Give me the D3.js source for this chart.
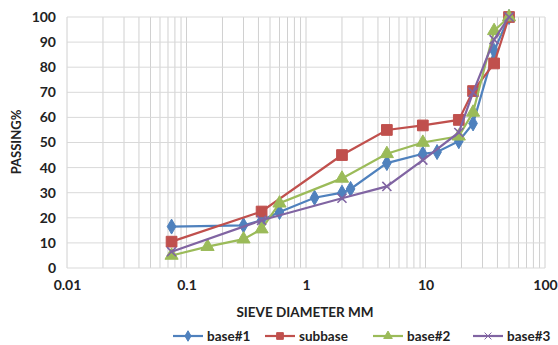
<!DOCTYPE html>
<html><head><meta charset="utf-8">
<script src="https://cdn.jsdelivr.net/npm/d3@7"></script>
<style>
html,body{margin:0;padding:0;background:#fff;}
text{font-family:Lato,"Open Sans",sans-serif;font-weight:bold;fill:#222;}
</style></head>
<body><svg id="c" width="558" height="345"></svg>
<script>
const seriesNames = ["base#1","subbase","base#2","base#3"];
const colors = ["#4F81BD","#C0504D","#9BBB59","#8064A2"];
const symbols = ["diamond","square","triangle","cross"];
const base1Sizes = [0.075,0.3,0.425,0.6,1.18,2,2.36,4.75,9.5,12.5,19,25,37.5,50];
const base1Pass  = [16.5,17,19,22.3,28,30,31.5,41.8,45.5,46.2,50.5,57.6,86.5,100];
const subbaseSizes = [0.075,0.425,2,4.75,9.5,19,25,37.5,50];
const subbasePass  = [10.5,22.5,45,55,56.8,59,70.5,81.5,100];
const base2Sizes = [0.075,0.15,0.3,0.425,0.6,2,4.75,9.5,19,25,37.5,50];
const base2Pass  = [5,8.5,11.5,15.5,25.8,35.7,45.5,50,52.5,62,94.5,100];
const base3Sizes = [0.075,0.425,2,4.75,9.5,19,25,37.5,50];
const base3Pass  = [6.5,19,27.8,32.5,43,54,70,91,100];
const xTicks = [0.01,0.1,1,10,100];
const xTickLabels = ["0.01","0.1","1","10","100"];
const yTicks = [0,10,20,30,40,50,60,70,80,90,100];

const sizes = [base1Sizes,subbaseSizes,base2Sizes,base3Sizes];
const pass = [base1Pass,subbasePass,base2Pass,base3Pass];

const svg = d3.select("#c");
const L=67,R=545,T=17,B=268;
const x = d3.scaleLog().domain([0.01,100]).range([L,R]);
const y = d3.scaleLinear().domain([0,100]).range([B,T]);

const minor=[];
for(let d=-2; d<2; d++) for(let m=1;m<10;m++) minor.push(m*Math.pow(10,d));
minor.push(100);
const g = svg.append("g");
g.selectAll("line.v").data(minor).enter().append("line")
 .attr("x1",d=>x(d)).attr("x2",d=>x(d)).attr("y1",T).attr("y2",B)
 .attr("stroke","#d0d0d0").attr("stroke-width",1);
g.selectAll("line.h").data(yTicks).enter().append("line")
 .attr("x1",L).attr("x2",R).attr("y1",d=>y(d)).attr("y2",d=>y(d))
 .attr("stroke","#d9d9d9").attr("stroke-width",1);

const yAxis = svg.append("g").attr("transform",`translate(${L},0)`)
 .call(d3.axisLeft(y).tickValues(yTicks).tickSize(0).tickPadding(11));
yAxis.select(".domain").remove();
yAxis.selectAll("text").style("font-size","14px").attr("fill","#222");
const xAxis = svg.append("g").attr("transform",`translate(0,${B})`)
 .call(d3.axisBottom(x).tickValues(xTicks).tickFormat((d,i)=>xTickLabels[i]).tickSize(0).tickPadding(12));
xAxis.select(".domain").remove();
xAxis.selectAll("text").style("font-size","14px").attr("fill","#222");

svg.append("text").attr("transform","translate(21,142) rotate(-90)")
 .attr("text-anchor","middle").style("font-size","13px").text("PASSING%");
svg.append("text").attr("x",305).attr("y",317)
 .attr("text-anchor","middle").style("font-size","13.5px").text("SIEVE DIAMETER MM");

function sym(i, s){
  const t = symbols[i];
  if(t==="diamond") return d3.symbol(d3.symbolDiamond, s||65)();
  if(t==="square") return d3.symbol(d3.symbolSquare, s||115)();
  if(t==="triangle") return d3.symbol(d3.symbolTriangle, s||75)();
  return d3.symbol(d3.symbolX, s||55)();
}

const line = d3.line().x(d=>x(d[0])).y(d=>y(d[1]));
seriesNames.forEach((name,i)=>{
  const data = sizes[i].map((s,j)=>[s,pass[i][j]]);
  svg.append("path").datum(data).attr("d",line)
   .attr("fill","none").attr("stroke",colors[i]).attr("stroke-width",2.2);
  svg.selectAll(null).data(data).enter().append("path")
   .attr("transform",d=>`translate(${x(d[0])},${y(d[1])})`)
   .attr("d",sym(i))
   .attr("fill",symbols[i]==="cross"?"none":colors[i])
   .attr("stroke",colors[i]).attr("stroke-width",symbols[i]==="cross"?1.6:1);
});

const legX=[173,265,373,473];
seriesNames.forEach((name,i)=>{
  const lg = svg.append("g").attr("transform",`translate(${legX[i]},336)`);
  lg.append("line").attr("x1",0).attr("x2",30).attr("y1",0).attr("y2",0)
   .attr("stroke",colors[i]).attr("stroke-width",2.2);
  lg.append("path").attr("transform","translate(15,0)").attr("d",sym(i, symbols[i]==="square"?45:32))
   .attr("fill",symbols[i]==="cross"?"none":colors[i]).attr("stroke",colors[i]).attr("stroke-width",1);
  lg.append("text").attr("x",34).attr("y",0).attr("dy","0.35em").style("font-size","13.5px").text(name);
});
</script></body></html>
